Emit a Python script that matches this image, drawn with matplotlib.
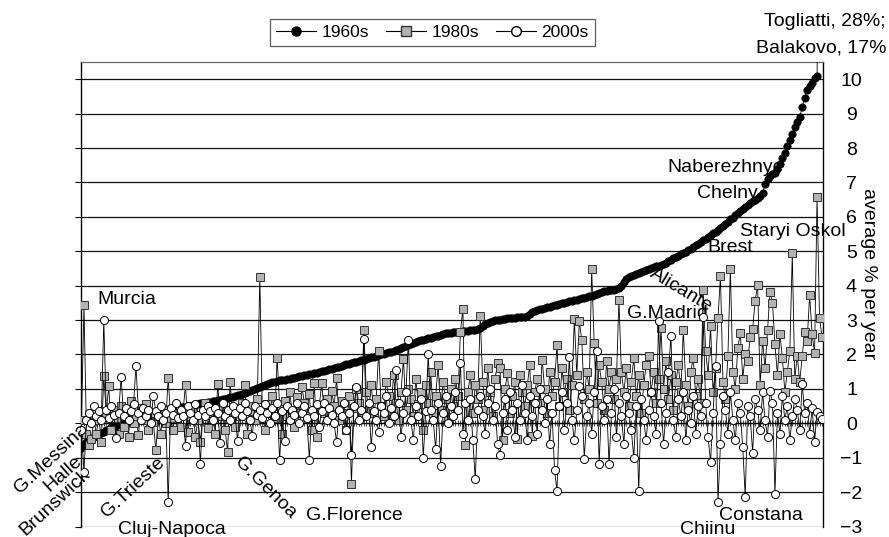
import numpy as np
import matplotlib
matplotlib.use("Agg")
import matplotlib.pyplot as plt
from matplotlib.lines import Line2D

plt.rcParams['font.family'] = ['Liberation Sans', 'DejaVu Sans']

# ---- data (average % growth per year, cities sorted by 1960s growth) ----
s1960 = [
    -0.72, -0.62, -0.55, -0.5, -0.45, -0.4, -0.36, -0.32, -0.28, -0.25,
    -0.2, -0.16, -0.12, -0.08, -0.05, -0.02, 0.0, 0.03, 0.05, 0.08,
    0.1, 0.12, 0.14, 0.16, 0.18, 0.2, 0.22, 0.25, 0.27, 0.29,
    0.31, 0.33, 0.35, 0.37, 0.39, 0.41, 0.42, 0.43, 0.44, 0.45,
    0.46, 0.47, 0.48, 0.49, 0.5, 0.52, 0.54, 0.56, 0.58, 0.59,
    0.6, 0.61, 0.63, 0.65, 0.66, 0.67, 0.68, 0.7, 0.71, 0.73,
    0.75, 0.77, 0.79, 0.81, 0.83, 0.85, 0.87, 0.9, 0.93, 0.96,
    0.99, 1.02, 1.05, 1.08, 1.11, 1.15, 1.17, 1.19, 1.21, 1.23,
    1.25, 1.26, 1.27, 1.28, 1.3, 1.31, 1.33, 1.35, 1.36, 1.38,
    1.39, 1.4, 1.42, 1.43, 1.45, 1.47, 1.49, 1.51, 1.53, 1.55,
    1.57, 1.59, 1.61, 1.63, 1.65, 1.67, 1.69, 1.71, 1.73, 1.75,
    1.77, 1.79, 1.81, 1.83, 1.85, 1.87, 1.9, 1.92, 1.94, 1.96,
    1.98, 2.0, 2.02, 2.04, 2.06, 2.08, 2.1, 2.13, 2.16, 2.2,
    2.22, 2.25, 2.28, 2.3, 2.33, 2.36, 2.38, 2.41, 2.43, 2.45,
    2.47, 2.49, 2.51, 2.53, 2.55, 2.57, 2.59, 2.61, 2.62, 2.63,
    2.64, 2.65, 2.66, 2.66, 2.67, 2.68, 2.69, 2.7, 2.71, 2.72,
    2.73, 2.78, 2.83, 2.88, 2.92, 2.95, 2.97, 2.99, 3.0, 3.01,
    3.03, 3.04, 3.05, 3.06, 3.06, 3.07, 3.08, 3.09, 3.09, 3.1,
    3.12, 3.18, 3.23, 3.26, 3.29, 3.31, 3.33, 3.35, 3.37, 3.39,
    3.41, 3.43, 3.45, 3.47, 3.49, 3.51, 3.53, 3.54, 3.55, 3.57,
    3.59, 3.61, 3.63, 3.65, 3.67, 3.69, 3.71, 3.73, 3.76, 3.79,
    3.81, 3.83, 3.85, 3.86, 3.87, 3.88, 3.9, 3.93, 3.99, 4.1,
    4.18, 4.24, 4.28, 4.31, 4.34, 4.37, 4.4, 4.42, 4.45, 4.48,
    4.51, 4.54, 4.56, 4.58, 4.6, 4.63, 4.67, 4.71, 4.75, 4.79,
    4.83, 4.87, 4.91, 4.95, 4.99, 5.03, 5.07, 5.12, 5.17, 5.22,
    5.27, 5.32, 5.37, 5.42, 5.47, 5.52, 5.57, 5.62, 5.68, 5.74,
    5.8, 5.86, 5.93, 5.98, 6.04, 6.1, 6.16, 6.22, 6.28, 6.34,
    6.4, 6.45, 6.5, 6.55, 6.62, 6.7, 6.95, 7.1, 7.2, 7.25,
    7.28, 7.4, 7.55, 7.7, 7.86, 8.05, 8.24, 8.42, 8.6, 8.75,
    8.9, 9.2, 9.46, 9.7, 9.8, 9.9, 10.03, 10.08, 17.0, 28.0,
]

s1980 = [
    0.1, 3.44, -0.3, -0.62, -0.45, 0.1, -0.3, 0.2, -0.53, 1.37,
    0.3, 1.08, -0.2, 0.4, 0.15, -0.3, 0.5, -0.1, 0.25, -0.4,
    0.65, 0.0, 0.2, -0.35, 0.45, 0.1, 0.55, -0.2, 0.3, 0.05,
    -0.79, 0.2, -0.3, 0.4, 0.0, 1.33, 0.15, -0.2, 0.5, 0.3,
    -0.1, 0.35, 1.12, -0.25, 0.2, 0.45, -0.4, 0.1, -0.53, 0.3,
    0.6, -0.15, 0.25, 0.4, -0.3, 1.14, 0.2, 0.5, -0.2, -0.83,
    1.21, 0.3, -0.1, 0.45, 0.2, 0.6, 1.1, -0.3, 0.35, 0.5,
    0.1, 0.7, 4.25, 0.4, -0.2, 0.55, 0.3, 0.8, 0.15, 1.91,
    0.5, -0.3, 0.65, 0.2, 0.9, 0.4, -0.1, 0.75, 0.3, 1.05,
    0.6, 0.2, 0.85, -0.2, 1.17, -0.39, 0.5, 1.17, 0.3, 0.7,
    0.2, 0.95, 0.5, 1.32, 0.1, 0.65, 0.3, -0.2, 0.8, -1.77,
    0.45, 1.0, 0.6, 0.2, 2.72, 0.9, 0.4, 1.1, 0.3, 0.7,
    2.1, 0.5, 0.2, 1.2, 0.8, 0.35, 1.4, 0.6, 0.1, 0.9,
    1.87, 0.4, 1.0, 0.7, 0.2, 1.3, 0.55, 0.9, -0.2, 1.1,
    0.6, 1.5, 0.3, 0.8, 1.68, 0.4, 1.2, 0.7, 0.1, 1.0,
    0.5, 1.3, 0.8, 2.65, 3.32, -0.64, 0.9, 1.4, 0.3, 1.1,
    0.7, 3.12, 1.2, 0.4, 1.6, 0.9, 0.2, 1.3, 1.75, 1.61,
    -0.48, 1.0, 1.45, 0.3, 0.8, 1.2, -0.45, 1.4, 0.9, 0.5,
    1.1, 1.7, -0.36, 0.9, 1.3, 0.6, 1.85, 1.0, 0.3, 1.5,
    0.8, 1.2, 2.27, 0.5, 1.6, 0.9, 1.3, 0.4, 1.1, 3.03,
    1.4, 2.96, 2.42, 0.7, 1.5, 1.0, 4.48, 2.32, 0.6, 1.7,
    1.2, 0.4, 1.8, 1.0, 1.5, 0.7, 1.3, 3.58, 1.48, 0.9,
    1.6, 0.5, 1.2, 1.9, 0.8, 1.4, 0.3, 1.1, 1.7, 1.96,
    0.9, 1.5, 0.6, 1.3, 2.77, 1.0, 1.8, 0.7, 1.4, 0.4,
    1.2, 1.7, 0.9, 2.72, 1.1, 0.5, 1.5, 1.9, 0.8, 1.3,
    0.6, 3.88, 2.11, 1.4, 2.83, 0.9, 1.6, 3.07, 4.28, 1.2,
    0.7, 1.96, 4.48, 1.5, 1.0, 2.2, 2.62, 1.3, 2.0, 1.8,
    2.5, 2.74, 3.55, 4.02, 1.1, 2.4, 1.6, 2.7, 3.81, 3.51,
    2.3, 1.4, 2.6, 1.9, 0.9, 1.5, 2.1, 4.94, 1.3, 1.96,
    1.2, 1.95, 2.66, 2.4, 3.72, 2.6, 2.03, 6.58, 3.05, 2.52,
]

s2000 = [
    -0.2, -1.41, 0.1, 0.3, 0.0, 0.5, 0.2, 0.35, 0.1, 3.0,
    0.4, 0.15, 0.5, 0.25, -0.42, 0.3, 1.35, 0.2, 0.45, 0.1,
    0.35, 0.55, 1.67, 0.3, 0.1, 0.45, 0.2, 0.4, 0.0, 0.8,
    0.35, 0.2, 0.5, 0.1, 0.3, -2.3, 0.45, 0.25, 0.6, 0.15,
    0.4, 0.2, -0.65, 0.5, 0.3, 0.1, 0.55, 0.25, -1.19, 0.4,
    0.2, 0.5, 0.35, 0.1, 0.45, 0.3, -0.57, 0.6, 0.2, 0.4,
    0.1, 0.5, 0.3, -0.52, 0.45, 0.2, 0.6, 0.35, 0.1, -0.36,
    0.5, 0.25, 0.4, 0.15, 0.55, 0.3, 0.0, 0.45, 0.2, 0.6,
    -1.08, 0.35, -0.52, 0.5, 0.1, 0.4, 0.25, 0.6, 0.0, 0.3,
    0.5, 0.15, -1.06, 0.4, 0.2, 0.55, -0.1, 0.35, 0.6, 0.1,
    0.45, 0.25, 0.0, -0.55, 0.4, 0.2, 0.6, -0.2, 0.3, -0.93,
    0.5, 1.05, 0.1, 0.4, 2.46, 0.2, 0.6, -0.69, 0.35, 0.1,
    -0.25, 0.5, 0.3, 0.8, 0.0, 0.45, 0.2, 1.55, 0.6, -0.4,
    0.3, 0.9, 2.42, 0.1, -0.5, 0.5, 0.2, 0.7, -1.0, 0.35,
    2.01, 0.4, 0.1, -0.75, 0.6, -1.25, 0.3, 0.8, 0.0, 0.5,
    0.2, 0.9, 0.4, 1.75, -0.3, 0.6, 0.1, 0.7, -0.5, -1.63,
    0.4, 0.8, 0.2, -0.3, 0.6, 1.0, 0.1, 0.5, -0.6, -0.93,
    0.3, 0.7, -0.2, 0.9, 0.4, -0.4, 0.6, 0.1, 1.1, 0.3,
    -0.5, 0.8, 0.2, 0.6, -0.3, 1.0, 0.4, 0.0, 0.7, -0.6,
    0.3, -1.35, -1.97, 0.5, 0.9, -0.2, 0.6, 1.92, 0.1, -0.5,
    0.4, 1.07, 0.8, -1.03, 0.2, 0.6, -0.3, 0.9, 2.11, -1.19,
    0.5, 0.1, 0.7, -1.19, 0.3, 1.0, -0.4, 0.6, 0.2, -0.6,
    0.8, 0.3, -0.2, -1.0, 0.5, -1.97, 0.7, 0.1, -0.5, 0.4,
    0.9, 0.2, -0.3, 2.98, 0.6, -0.6, 0.3, 1.48, 2.54, 0.1,
    -0.4, 0.7, 0.2, 0.9, -0.5, 0.4, 0.0, 0.8, -0.3, 0.5,
    0.2, 3.1, 0.6, -0.4, -1.12, 0.3, 1.67, -2.3, -0.6, 0.8,
    0.4, -0.3, 0.9, 0.1, -0.5, 0.6, 0.3, -0.7, -2.13, 0.5,
    0.2, -0.86, 0.7, 0.4, -0.2, 0.9, 0.1, -0.4, 0.95, 0.6,
    -2.06, 0.3, -0.3, 0.8, 0.1, 0.5, -0.5, 0.2, 0.7, 0.4,
    -0.2, 1.14, 0.3, 0.6, -0.3, 0.44, -0.53, 0.32, 0.2, 0.12,
]

series_names = ["1960s", "1980s", "2000s"]
y_ticks = list(range(-3, 11))

# labelled cities: (text, x_px, y_px, rotation, ha)
labels = [
    ("Murcia", 97, 300, 0, "left"),
    ("G.Messina", 51, 459, 43, "center"),
    ("Halle", 63, 474, 42, "center"),
    ("Brunswick", 55, 502, 43, "center"),
    ("G.Trieste", 133, 488, 43, "center"),
    ("G.Genoa", 265, 488, -45, "center"),
    ("G.Florence", 354, 516, 0, "center"),
    ("Cluj-Napoca", 172, 530, 0, "center"),
    ("Chiinu", 708, 530, 0, "center"),
    ("Constana", 761, 515, 0, "center"),
    ("G.Madrid", 667, 313, 0, "center"),
    ("Alicante", 681, 290, -31, "center"),
    ("Brest", 730, 247, 0, "center"),
    ("Staryi Oskol", 793, 231, 0, "center"),
    ("Chelny", 727, 193, 0, "center"),
    ("Naberezhnye", 726, 168, 0, "center"),
]

W, H = 889, 537
fig = plt.figure(figsize=(W / 100, H / 100), dpi=100)
ax = fig.add_axes([81 / W, 1 - 526.5 / H, (823 - 81) / W, (526.5 - 62) / H])

n = len(s1960)
x = np.arange(n)

l60, = ax.plot(x, s1960, color="black", lw=0.6, marker="o", ms=5.3,
               mfc="black", mec="black", mew=0.5, zorder=3)
l80, = ax.plot(x, s1980, color="black", lw=0.6, marker="s", ms=5.4,
               mfc="#b2b2b2", mec="#333333", mew=0.7, zorder=4)
l00, = ax.plot(x, s2000, color="black", lw=0.6, marker="o", ms=5.8,
               mfc="white", mec="black", mew=0.7, zorder=5)

ax.set_xlim(-0.2, n - 0.6)
ax.set_ylim(-3, 10.5)

# horizontal gridlines
ax.set_yticks(y_ticks)
ax.grid(axis="y", color="#111111", lw=0.9)
ax.grid(axis="x", visible=False)
ax.set_axisbelow(True)

# category axis at zero with a tick per city
ax.spines["bottom"].set_position(("data", 0))
ax.spines["bottom"].set_linewidth(0.9)
ax.set_xticks(x)
ax.tick_params(axis="x", direction="inout", length=4.5, width=0.5,
               labelbottom=False, color="black")
ax.spines["top"].set_color("#666666")
ax.spines["top"].set_linewidth(0.9)
ax.spines["left"].set_linewidth(1.0)
ax.spines["right"].set_linewidth(1.0)

# y labels on the right, small outward ticks on the left
ax.tick_params(axis="y", which="both", left=True, right=False,
               labelleft=False, labelright=True, direction="out",
               length=4.5, width=0.8, pad=16, labelsize=14)
for t in ax.get_yticklabels():
    t.set_horizontalalignment("center")

fig.text(869 / W, 1 - 274 / H, "average % per year", rotation=270,
         ha="center", va="center", fontsize=14)

for txt, px, py, rot, ha in labels:
    ax.text(px / W, 1 - py / H, txt, transform=fig.transFigure,
            rotation=rot, ha=ha, va="center", fontsize=14,
            rotation_mode="anchor", zorder=1, clip_on=False)

fig.text(886 / W, 1 - 22 / H, "Togliatti, 28%;", ha="right", va="center",
         fontsize=14)
fig.text(886 / W, 1 - 48 / H, "Balakovo, 17%", ha="right", va="center",
         fontsize=14)

handles = [
    Line2D([], [], color="black", lw=0.8, marker="o", ms=6.5, mfc="black", mec="black"),
    Line2D([], [], color="black", lw=0.8, marker="s", ms=6.5, mfc="#b2b2b2", mec="#333333"),
    Line2D([], [], color="black", lw=0.8, marker="o", ms=7, mfc="white", mec="black"),
]
leg = fig.legend(handles, series_names, loc="center",
                 bbox_to_anchor=(432.5 / W, 1 - 32.5 / H), ncol=3,
                 fontsize=12.5, frameon=True, fancybox=False, handlelength=2.3,
                 handletextpad=0.3, columnspacing=1.0, borderpad=0.35,
                 borderaxespad=0)
leg.get_frame().set_edgecolor("#333333")
leg.get_frame().set_linewidth(0.9)

fig.savefig("out.png", dpi=100)
